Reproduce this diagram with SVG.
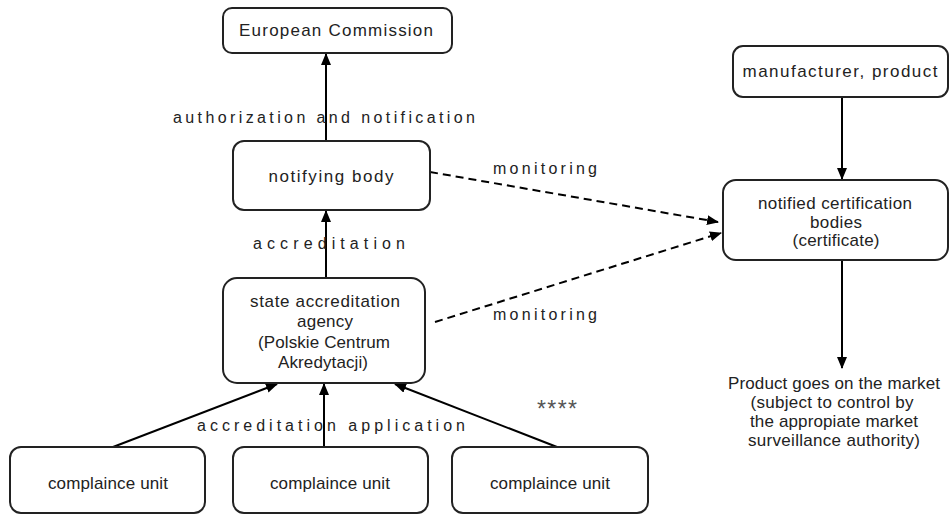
<svg xmlns="http://www.w3.org/2000/svg" width="951" height="515" viewBox="0 0 951 515">
<style>
.box{fill:#fff;stroke:#222;stroke-width:2}
.t{font-family:"Liberation Sans",Arial,sans-serif;font-size:17px;fill:#222;text-anchor:middle}
.lbl{font-family:"Liberation Sans",Arial,sans-serif;font-size:16px;fill:#222}
.ln{fill:none;stroke:#000;stroke-width:2}
.dash{fill:none;stroke:#000;stroke-width:2;stroke-dasharray:8 5}
</style>
<defs>
<marker id="ah" viewBox="0 0 12 10" refX="11" refY="5" markerWidth="12" markerHeight="10" markerUnits="userSpaceOnUse" orient="auto">
<path d="M0,0 L12,5 L0,10 z" fill="#000"/>
</marker>
</defs>
<rect width="951" height="515" fill="#fff"/>
<g id="connectors">
<line class="ln" x1="326" y1="140" x2="326" y2="54" marker-end="url(#ah)"/>
<line class="ln" x1="326" y1="278" x2="326" y2="211" marker-end="url(#ah)"/>
<line class="ln" x1="113" y1="447" x2="277" y2="384" marker-end="url(#ah)"/>
<line class="ln" x1="324" y1="447" x2="324" y2="384" marker-end="url(#ah)"/>
<line class="ln" x1="557" y1="447" x2="395" y2="384" marker-end="url(#ah)"/>
<line class="ln" x1="842" y1="97" x2="842" y2="179" marker-end="url(#ah)"/>
<line class="ln" x1="842" y1="260" x2="842" y2="368" marker-end="url(#ah)"/>
<line class="dash" x1="430" y1="172" x2="718" y2="222" marker-end="url(#ah)"/>
<line class="dash" x1="435" y1="322" x2="721" y2="233" marker-end="url(#ah)"/>
<text class="lbl" x="173" y="123" textLength="302" lengthAdjust="spacing">authorization and notification</text>
<text class="lbl" x="253" y="249" textLength="152" lengthAdjust="spacing">accreditation</text>
<text class="lbl" x="197" y="431" textLength="268" lengthAdjust="spacing">accreditation application</text>
<text class="lbl" x="493" y="174" textLength="104" lengthAdjust="spacing">monitoring</text>
<text class="lbl" x="493" y="320" textLength="104" lengthAdjust="spacing">monitoring</text>
</g>
<g id="european-commission">
<rect class="box" x="223" y="8" width="229" height="45" rx="9"/>
<text class="t" x="336" y="36" textLength="194" lengthAdjust="spacing">European Commission</text>
</g>
<g id="notifying-body">
<rect class="box" x="233" y="141" width="197" height="69" rx="11"/>
<text class="t" x="331" y="182" textLength="125" lengthAdjust="spacing">notifying body</text>
</g>
<g id="state-agency">
<rect class="box" x="223" y="278" width="202" height="105" rx="14"/>
<text class="t" x="325" y="307" textLength="150" lengthAdjust="spacing">state accreditation</text>
<text class="t" x="325" y="327" textLength="56" lengthAdjust="spacing">agency</text>
<text class="t" x="324" y="348" textLength="132" lengthAdjust="spacing">(Polskie Centrum</text>
<text class="t" x="323" y="368" textLength="90" lengthAdjust="spacing">Akredytacji)</text>
</g>
<g id="unit-1">
<rect class="box" x="10" y="447" width="195" height="66" rx="11"/>
<text class="t" x="108" y="489" textLength="120" lengthAdjust="spacing">complaince unit</text>
</g>
<g id="unit-2">
<rect class="box" x="233" y="447" width="195" height="66" rx="11"/>
<text class="t" x="330" y="489" textLength="120" lengthAdjust="spacing">complaince unit</text>
</g>
<g id="unit-3">
<rect class="box" x="452" y="447" width="196" height="66" rx="11"/>
<text class="t" x="550" y="489" textLength="120" lengthAdjust="spacing">complaince unit</text>
</g>
<g id="stars">
<text x="537" y="417" textLength="40" lengthAdjust="spacing" style="font-family:'Liberation Sans',Arial,sans-serif;font-size:23px;fill:#555">****</text>
</g>
<g id="manufacturer">
<rect class="box" x="733" y="46" width="215" height="51" rx="10"/>
<text class="t" x="840" y="77" textLength="195" lengthAdjust="spacing">manufacturer, product</text>
</g>
<g id="notified-bodies">
<rect class="box" x="723" y="180" width="225" height="80" rx="13"/>
<text class="t" x="835" y="209" textLength="154" lengthAdjust="spacing">notified certification</text>
<text class="t" x="836" y="228" textLength="52" lengthAdjust="spacing">bodies</text>
<text class="t" x="836" y="246" textLength="87" lengthAdjust="spacing">(certificate)</text>
</g>
<g id="market">
<text class="t" x="834" y="389" textLength="212" lengthAdjust="spacing">Product goes on the market</text>
<text class="t" x="832" y="408" textLength="163" lengthAdjust="spacing">(subject to control by</text>
<text class="t" x="834" y="427" textLength="168" lengthAdjust="spacing">the appropiate market</text>
<text class="t" x="834" y="446" textLength="172" lengthAdjust="spacing">surveillance authority)</text>
</g>
</svg>
